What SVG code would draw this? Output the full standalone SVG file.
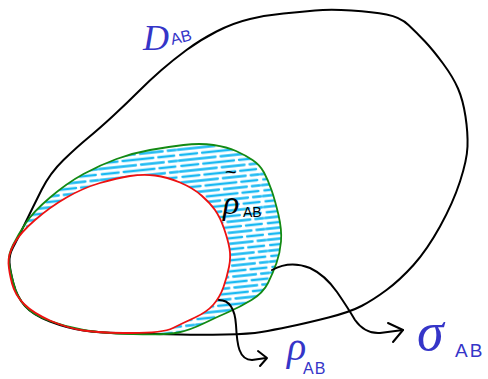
<svg xmlns="http://www.w3.org/2000/svg" width="488" height="379" viewBox="0 0 488 379">
<style>
.blk{fill:none;stroke:#000;stroke-width:2;stroke-linecap:round;stroke-linejoin:round}
.grn{fill:none;stroke:#138a13;stroke-width:1.8}
.red{fill:none;stroke:#ee1111;stroke-width:1.8}
.blue{fill:#3535c8;font-family:"Liberation Serif",serif;font-style:italic}
.dark{fill:#000;font-family:"Liberation Serif",serif;font-style:italic}
.sub{font-family:"Liberation Sans",sans-serif;font-style:normal}
</style>
<defs>
<pattern id="hatch" width="80" height="11" patternUnits="userSpaceOnUse" patternTransform="rotate(-6)">
<path d="M1,2.5 H38 M43,2.5 H66 M71,2.5 H79 M3,8 H20 M25,8 H56 M61,8 H77" stroke="#1ab9f2" stroke-width="2.3" stroke-linecap="round"/>
</pattern>
<clipPath id="band">
<path clip-rule="evenodd" d="M13,245 Q18,235 25.5,223.5 Q33,212 50,197.5 Q67,183 83.5,174 Q100,165 116.5,159 Q133,153 150,150 Q167,147 183.5,145 Q200,143 213.5,145 Q227,147 236,151 Q245,155 252.5,160 Q260,165 264,172.5 Q268,180 271.5,190 Q275,200 278.5,215 Q282,230 281,241.5 Q280,253 276.5,263 Q273,273 268,283 Q263,293 251.5,300 Q240,307 228.5,312 Q217,317 203.5,323.5 Q190,330 178.5,332.5 Q167,335 133.5,334 Q100,333 83.5,330 Q67,327 50,321 Q33,315 25,306 Q17,297 13.5,283.5 Q10,270 9,262.5 Q8,255 13,245 Z M14,244 Q20,233 35,220 Q50,207 66.5,197.5 Q83,188 100,183 Q117,178 130,176 Q143,174 155,175.5 Q167,177 180,182.5 Q193,188 201.5,195.5 Q210,203 215,210 Q220,217 224,228.5 Q228,240 229.5,248.5 Q231,257 229,267 Q227,277 223.5,287 Q220,297 213.5,304.5 Q207,312 195,317.5 Q183,323 173,328 Q163,333 131.5,333 Q100,333 83.5,330.5 Q67,328 50,320.5 Q33,313 24,304 Q15,295 12,283.5 Q9,272 8.5,263.5 Q8,255 14,244 Z"/>
</clipPath>
</defs>
<g id="hatching">
<rect x="0" y="130" width="290" height="210" fill="url(#hatch)" clip-path="url(#band)"/>
</g>
<g id="D_AB">
<path class="blk" d="M13,247.5 Q17,240 25,223.5 Q33,207 41.5,190 Q50,173 63.5,160 Q77,147 88.5,137.5 Q100,128 113.5,115.5 Q127,103 138.5,91.5 Q150,80 161.5,70 Q173,60 186.5,50 Q200,40 216.5,31.5 Q233,23 250,19 Q267,15 283.5,13.5 Q300,12 315,10.5 Q330,9 351.5,10.5 Q373,12 386.5,14.5 Q400,17 408.5,25 Q417,33 425,41.5 Q433,50 443,63.5 Q453,77 458,88.5 Q463,100 465.5,116.5 Q468,133 467.5,146.5 Q467,160 460,181.5 Q453,203 440,226.5 Q427,250 413.5,265 Q400,280 386.5,290 Q373,300 361.5,306 Q350,312 328.5,317.5 Q307,323 290,326.5 Q273,330 261.5,332 Q250,334 225,334.5 Q200,335 180,334.5 Q160,334 130,333.5 Q100,333 83.5,330.5 Q67,328 50,321.5 Q33,315 25,306 Q17,297 13.5,283.5 Q10,270 9.5,262.5 Q9,255 13,247.5 Z"/>
<text class="blue" x="143" y="50" font-size="36">D</text>
<text class="blue sub" x="172" y="45" font-size="16" transform="rotate(-14 172 45)">AB</text>
</g>
<g id="rho_tilde_AB">
<path class="grn" d="M13,245 Q18,235 25.5,223.5 Q33,212 50,197.5 Q67,183 83.5,174 Q100,165 116.5,159 Q133,153 150,150 Q167,147 183.5,145 Q200,143 213.5,145 Q227,147 236,151 Q245,155 252.5,160 Q260,165 264,172.5 Q268,180 271.5,190 Q275,200 278.5,215 Q282,230 281,241.5 Q280,253 276.5,263 Q273,273 268,283 Q263,293 251.5,300 Q240,307 228.5,312 Q217,317 203.5,323.5 Q190,330 178.5,332.5 Q167,335 133.5,334 Q100,333 83.5,330 Q67,327 50,321 Q33,315 25,306 Q17,297 13.5,283.5 Q10,270 9,262.5 Q8,255 13,245 Z"/>
<text class="dark sub" x="225" y="179" font-size="20">~</text>
<text class="dark" x="223" y="214" font-size="34">ρ</text>
<text class="dark sub" x="243" y="217" font-size="14">AB</text>
</g>
<g id="rho_AB">
<path class="red" d="M14,244 Q20,233 35,220 Q50,207 66.5,197.5 Q83,188 100,183 Q117,178 130,176 Q143,174 155,175.5 Q167,177 180,182.5 Q193,188 201.5,195.5 Q210,203 215,210 Q220,217 224,228.5 Q228,240 229.5,248.5 Q231,257 229,267 Q227,277 223.5,287 Q220,297 213.5,304.5 Q207,312 195,317.5 Q183,323 173,328 Q163,333 131.5,333 Q100,333 83.5,330.5 Q67,328 50,320.5 Q33,313 24,304 Q15,295 12,283.5 Q9,272 8.5,263.5 Q8,255 14,244 Z"/>
<text class="blue" x="287" y="360" font-size="40">ρ</text>
<text class="blue sub" x="303" y="374" font-size="16" letter-spacing="1">AB</text>
</g>
<g id="sigma_AB">
<text class="blue" x="417" y="350" font-size="54">σ</text>
<text class="blue sub" x="455" y="357" font-size="19" letter-spacing="2">AB</text>
</g>
<g id="connectors">
<path class="blk" d="M219,300 C230,300 235,310 236,325 C237,345 239,360 252,360 L266,358"/>
<path class="blk" d="M258,351 L267,358 L260,366"/>
<path class="blk" d="M272,270 Q290,260 310,268 Q325,275 337,292 Q348,308 355,320 Q365,334 380,333 L403,330"/>
<path class="blk" d="M388,323 L403,330 L393,342"/>
</g>
</svg>
